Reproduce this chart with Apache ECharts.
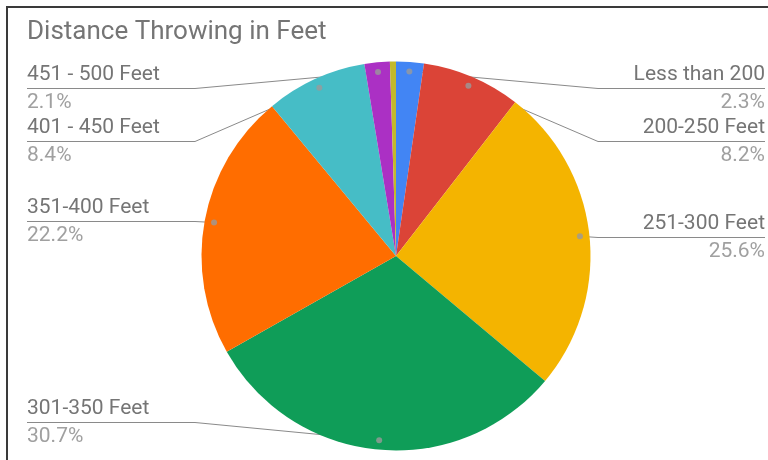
<!DOCTYPE html>
<html>
<head>
<meta charset="utf-8">
<script src="https://cdn.jsdelivr.net/npm/echarts@6/dist/echarts.min.js"></script>
<style>
  html, body { margin: 0; padding: 0; background: #fff; }
  #chart { width: 768px; height: 460px; }
</style>
</head>
<body>
<div id="chart"></div>
<script>
// ---- data ----
const categories = ['Less than 200', '200-250 Feet', '251-300 Feet', '301-350 Feet', '351-400 Feet', '401 - 450 Feet', '451 - 500 Feet', 'Over 500 Feet'];
const values = [2.3, 8.2, 25.6, 30.7, 22.2, 8.4, 2.1, 0.5];
const showLabel = [true, true, true, true, true, true, true, false];
const colors = ['#4285F4', '#DB4437', '#F4B400', '#0F9D58', '#FF6D00', '#46BDC6', '#AB30C4', '#C3B92B'];
const titleText = 'Distance Throwing in Feet';

// ---- layout (not data) ----
const CX = 396, CY = 256, R = 194.5, DOT_R = 185;
const labelLineY = [88.5, 141.5, 237.5, 422.5, 221.5, 141.5, 88.5, null];

const total = values.reduce((a, b) => a + b, 0);
const mids = [];
let acc = 0;
values.forEach(v => { mids.push(acc + v / 2); acc += v; });

const chart = echarts.init(document.getElementById('chart'), null, { renderer: 'canvas' });

const pieData = categories.map((c, i) => ({ name: c, value: values[i], itemStyle: { color: colors[i] } }));
const labelData = categories.map((c, i) => ({
  name: c, value: values[i],
  label: { show: showLabel[i] },
  labelLine: { show: showLabel[i] }
}));
const dotData = [];
mids.forEach((m, i) => { if (showLabel[i]) dotData.push([DOT_R, m]); });

chart.setOption({
  animation: false,
  backgroundColor: '#ffffff',
  title: {
    text: titleText, left: 22, top: 14,
    textStyle: { fontFamily: 'Roboto', fontSize: 26, fontWeight: 'normal', color: '#757575' }
  },
  graphic: [
    { type: 'rect', shape: { x: 6, y: 6, width: 762, height: 2 }, style: { fill: '#3a3a3a' } },
    { type: 'rect', shape: { x: 6, y: 6, width: 2, height: 454 }, style: { fill: '#3a3a3a' } }
  ],
  polar: { center: [CX, CY], radius: R },
  angleAxis: { type: 'value', min: 0, max: total, startAngle: 90, clockwise: true, show: false },
  radiusAxis: { type: 'value', min: 0, max: R, show: false },
  series: [
    {
      type: 'pie', center: [CX, CY], radius: R, startAngle: 90, clockwise: true,
      silent: true, label: { show: false }, labelLine: { show: false },
      itemStyle: { borderWidth: 0 },
      data: pieData
    },
    {
      type: 'pie', center: [CX, CY], radius: DOT_R, startAngle: 90, clockwise: true,
      silent: true, avoidLabelOverlap: false, percentPrecision: 1,
      itemStyle: { color: 'rgba(0,0,0,0)', borderWidth: 0 },
      label: {
        show: true,
        formatter: '{n|{b}}\n{p|{d}%}',
        rich: {
          n: { fontFamily: 'Roboto', fontSize: 21, lineHeight: 28, color: '#757575' },
          p: { fontFamily: 'Roboto', fontSize: 21, lineHeight: 28, color: '#A0A0A0' }
        }
      },
      labelLine: { show: true, length: 10, length2: 10, lineStyle: { color: '#8A8A8A', width: 1 } },
      labelLayout: function (p) {
        const y = labelLineY[p.dataIndex];
        if (y == null || !p.labelLinePoints) return {};
        const p0 = p.labelLinePoints[0];
        const isLeft = p0[0] < CX;
        const edgeX = isLeft ? 27 : 765;
        const elbowX = isLeft ? CX - 201 : CX + 202;
        return {
          x: edgeX, y: y,
          align: isLeft ? 'left' : 'right',
          verticalAlign: 'middle',
          labelLinePoints: [[p0[0], p0[1]], [elbowX, y], [edgeX, y]]
        };
      },
      data: labelData
    },
    {
      type: 'scatter', coordinateSystem: 'polar', silent: true,
      symbol: 'circle', symbolSize: 6,
      itemStyle: { color: '#9A9A9A' },
      data: dotData, z: 5
    }
  ]
});
</script>
</body>
</html>
